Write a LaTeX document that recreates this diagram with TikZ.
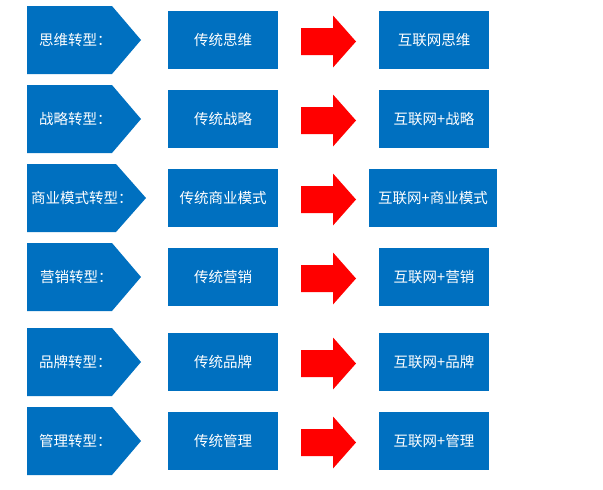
\documentclass[tikz,border=0pt]{standalone}
\usepackage{fontspec}
\newfontfamily\cjk{Noto Sans CJK SC}
\definecolor{bblue}{HTML}{0070C0}
\definecolor{ared}{HTML}{FF0000}
\begin{document}
\begin{tikzpicture}[x=1pt,y=-1pt,
  txt/.style={text=white, font=\cjk\fontsize{14.5}{16}\selectfont},
  box/.style={txt, fill=bblue, minimum height=58pt, inner sep=0pt},
  lab/.style={txt, anchor=west, inner sep=0pt},
  pent/.style={fill=bblue},
  redarrow/.style={fill=ared}]
\useasboundingbox (0,0) rectangle (603,490);
\foreach \y/\bx/\tx/\lx/\rl/\rr/\a/\b/\c/\n in {
  40/112/141/39/379/489/思维转型：/传统思维/互联网思维/1,
  119/112/141/39/379/489/战略转型：/传统战略/互联网+战略/2,
  198/116/146/31/369/497/商业模式转型：/传统商业模式/互联网+商业模式/3,
  277/112/141/40/379/489/营销转型：/传统营销/互联网+营销/4,
  362/112/141/39/379/489/品牌转型：/传统品牌/互联网+品牌/5,
  441/112/141/39/379/489/管理转型：/传统管理/互联网+管理/6}{
  % pentagon
  \fill[pent] (27,\y-34) -- (\bx,\y-34) -- (\tx,\y) -- (\bx,\y+34) -- (27,\y+34) -- cycle;
  \node[lab] (p\n) at (\lx,\y) {\a};
  % middle box
  \node[box, minimum width=110pt] (m\n) at (223,\y) {\b};
  % right box
  \pgfmathsetmacro{\rc}{(\rl+\rr)/2}
  \pgfmathsetmacro{\rw}{\rr-\rl}
  \node[box, minimum width=\rw pt] (r\n) at (\rc,\y) {\c};
  % red block arrow
  \fill[redarrow] (301,\y+1.5-13.5) -- (333,\y+1.5-13.5) -- (333,\y+1.5-26)
    -- (356,\y+1.5) -- (333,\y+1.5+26) -- (333,\y+1.5+13.5) -- (301,\y+1.5+13.5) -- cycle;
}
\end{tikzpicture}
\end{document}
